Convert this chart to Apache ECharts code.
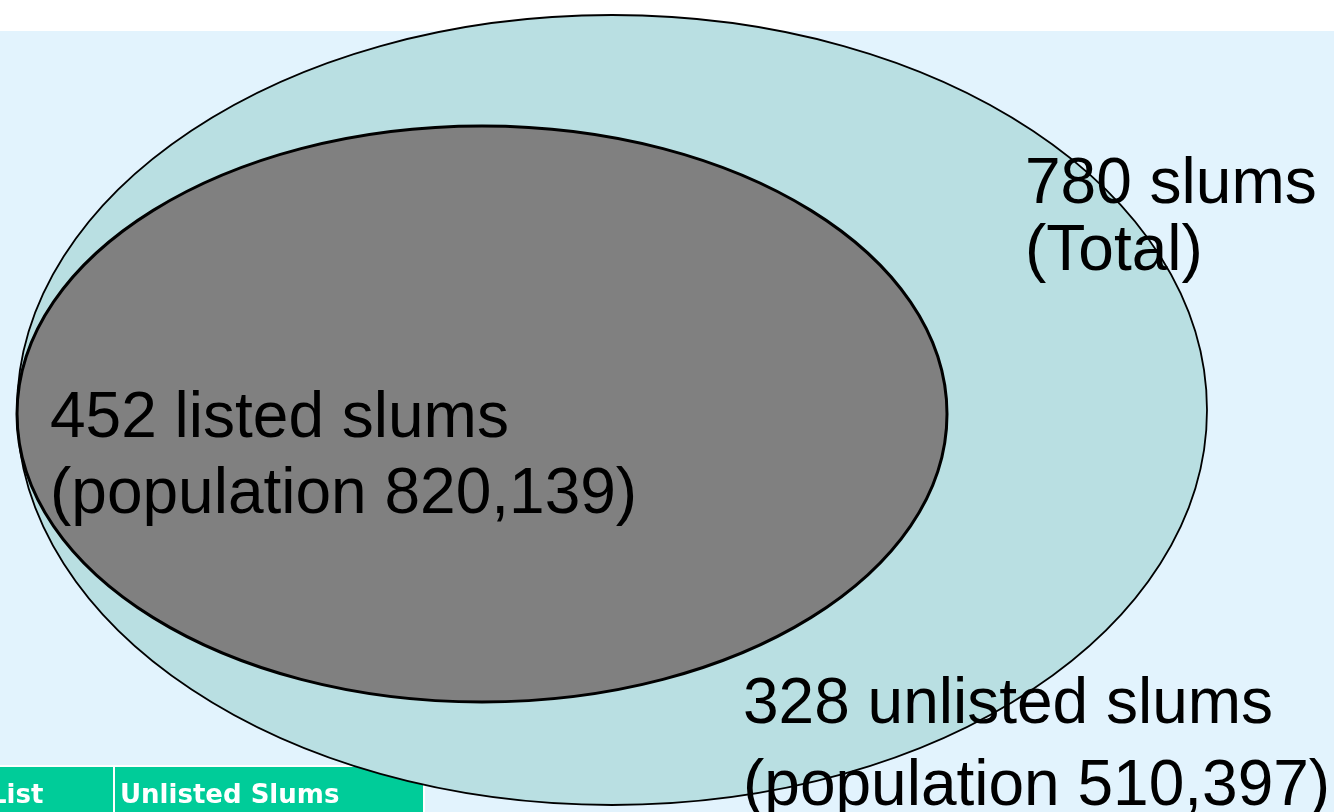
<!DOCTYPE html>
<html>
<head>
<meta charset="utf-8">
<script src="https://cdn.jsdelivr.net/npm/echarts@6/dist/echarts.min.js"></script>
<style>
  html, body { margin: 0; padding: 0; background: #ffffff; }
  #chart { width: 1334px; height: 812px; }
</style>
</head>
<body>
<div id="chart"></div>
<script>
// ---- data ----
const setNames = ['Total', 'Listed', 'Unlisted'];
const slumCounts = [780, 452, 328];
const populations = [null, 820139, 510397];
const tableHeaders = ['List', 'Unlisted Slums'];

// ---- layout (positions in a 1334 x 812 canvas-unit space) ----
const ellipseLayout = [
  { cx: 612, cy: 410, rx: 595, ry: 395, fill: '#b9dfe2', lw: 1.8 },   // Total
  { cx: 482, cy: 414, rx: 465, ry: 288, fill: '#808080', lw: 3 }      // Listed
];
const labelLayout = [
  { x: 1025, base: 204, gap: 67 },
  { x: 50,   base: 438, gap: 76 },
  { x: 743,  base: 724, gap: 82 }
];
const FONT = '64px "Liberation Sans", Arial, sans-serif';
const MID = 19; // baseline offset from 'middle'

function fmt(n) { return n.toLocaleString('en-US'); }
const labelLines = [
  [slumCounts[0] + ' slums', '(' + setNames[0] + ')'],
  [slumCounts[1] + ' listed slums', '(population ' + fmt(populations[1]) + ')'],
  [slumCounts[2] + ' unlisted slums', '(population ' + fmt(populations[2]) + ')']
];

const chart = echarts.init(document.getElementById('chart'), null, { renderer: 'canvas' });

function ellipseEl(api, L, fill, stroke, lw, z) {
  const c = api.coord([L.cx, L.cy]);
  const s = api.size([L.rx, L.ry]);
  return {
    type: 'ellipse', z2: z,
    shape: { cx: c[0], cy: c[1], rx: s[0], ry: s[1] },
    style: { fill: fill, stroke: stroke, lineWidth: lw }
  };
}

const option = {
  animation: false,
  backgroundColor: '#ffffff',
  grid: { left: 0, right: 0, top: 0, bottom: 0 },
  xAxis: { type: 'value', min: 0, max: 1334, show: false },
  yAxis: { type: 'value', min: 0, max: 812, inverse: true, show: false },
  graphic: [
    { type: 'rect', z: -10, shape: { x: 0, y: 31, width: 1334, height: 781 },
      style: { fill: '#e2f3fd' } },
    { type: 'group', z: 100, children: [
      { type: 'rect', shape: { x: -10, y: 766, width: 124, height: 60 },
        style: { fill: '#00cc99', stroke: '#ffffff', lineWidth: 2 } },
      { type: 'rect', shape: { x: 114, y: 766, width: 310, height: 60 },
        style: { fill: '#00cc99', stroke: '#ffffff', lineWidth: 2 } },
      { type: 'text', style: { text: tableHeaders[0], x: -10, y: 796, verticalAlign: 'middle',
        font: 'bold 26px "DejaVu Sans", Verdana, sans-serif', fill: '#ffffff' } },
      { type: 'text', style: { text: tableHeaders[1], x: 120, y: 796, verticalAlign: 'middle',
        font: 'bold 26px "DejaVu Sans", Verdana, sans-serif', fill: '#ffffff' } }
    ] }
  ],
  series: [{
    type: 'custom',
    coordinateSystem: 'cartesian2d',
    clip: false,
    data: [[0, 0]],
    renderItem: function (params, api) {
      const children = [];
      children.push(ellipseEl(api, ellipseLayout[0], ellipseLayout[0].fill, null, 0, 1));
      children.push(ellipseEl(api, ellipseLayout[1], ellipseLayout[1].fill, '#000000', ellipseLayout[1].lw, 2));
      labelLines.forEach(function (lines, i) {
        const L = labelLayout[i];
        lines.forEach(function (t, j) {
          const p = api.coord([L.x, L.base + j * L.gap - MID]);
          children.push({
            type: 'text', z2: 3,
            style: { text: t, x: p[0], y: p[1], font: FONT, fill: '#000000',
                     align: 'left', verticalAlign: 'middle' }
          });
        });
      });
      children.push(ellipseEl(api, ellipseLayout[0], null, '#000000', ellipseLayout[0].lw, 4));
      return { type: 'group', children: children };
    }
  }]
};
chart.setOption(option);
</script>
</body>
</html>
